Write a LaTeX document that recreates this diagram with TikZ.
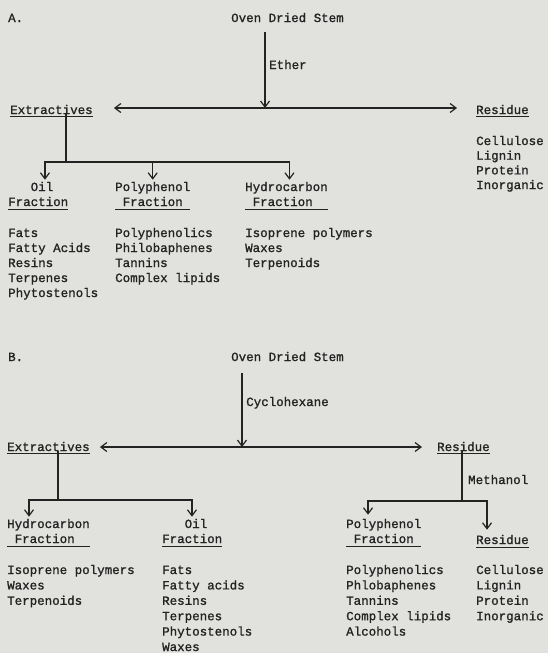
\documentclass[tikz,border=0pt]{standalone}
\usepackage{fontspec}
\setmonofont{Liberation Mono}[RawFeature={embolden=1.2}]
\usetikzlibrary{arrows.meta,positioning,calc}
\definecolor{paper}{RGB}{225,225,222}
\definecolor{ink}{RGB}{35,35,35}
\tikzset{
  lbl/.style={inner sep=0pt,anchor=base west,text=ink,font=\ttfamily\fontsize{12.5}{15}\selectfont},
  uline/.style={draw=ink,line width=0.8pt},
  lead/.style={draw=ink,line width=1.2pt},
  flow/.style={lead,-{Straight Barb[length=6pt,width=9pt]}},
}

\begin{document}
\begin{tikzpicture}[x=1pt,y=-1pt]
  \useasboundingbox[fill=paper] (0,0) rectangle (548,653);

  % ---- A. ether extraction
  \node[lbl] (labA) at (8,22) {A.};
  \node[lbl] (ovenA) at (231,22) {Oven Dried Stem};
  \node[lbl] (etherA) at (269,69) {Ether};
  \node[lbl] (extA) at (10,114) {Extractives};
  \node[lbl] (resA) at (476,114) {Residue};
  \draw[uline] ($(extA.base west)+(0,2)$) -- ($(extA.base east)+(0,2)$);
  \draw[uline] ($(resA.base west)+(0,2)$) -- ($(resA.base east)+(0,2)$);
  \foreach \t [count=\i from 0] in {Cellulose,Lignin,Protein,Inorganic}
    \node[lbl] (resA\i) at (476,145+14.7*\i) {\t};

  \coordinate (topA) at (265,32);
  \coordinate (sA) at (265,108);
  \coordinate (jA) at (66,162);
  \draw[flow] (topA) -- (sA);
  \draw[flow,shorten >=21pt] (sA) -- (sA -| extA.east);
  \draw[flow,shorten >=19pt] (sA) -- (sA -| resA.west);
  \draw[lead] (extA.base -| jA) -- (jA);

  \node[lbl] (oilA) at (30.5,191) {Oil};
  \node[lbl] (foilA) at (8,206) {Fraction};
  \node[lbl] (polA) at (115,191) {Polyphenol};
  \node[lbl] (fpolA) at (122.5,206) {Fraction};
  \node[lbl] (hydA) at (245,191) {Hydrocarbon};
  \node[lbl] (fhydA) at (252.5,206) {Fraction};
  \draw[uline] ($(foilA.base west)+(0,3)$) -- ($(foilA.base east)+(0,3)$);
  \draw[uline] ($(polA.base west |- fpolA.base)+(0,3)$) -- ($(polA.base east |- fpolA.base)+(0,3)$);
  \draw[uline] ($(hydA.base west |- fhydA.base)+(0,3)$) -- ($(hydA.base east |- fhydA.base)+(0,3)$);
  \draw[flow] (jA) -| ($(oilA.north)+(3,-2)$);
  \draw[flow] (jA) -| ($(polA.north)+(0,-2)$);
  \draw[flow] (jA) -| ($(hydA.north)+(3,-2)$);

  \foreach \t [count=\i from 0] in {Fats,Fatty Acids,Resins,Terpenes,Phytostenols}
    \node[lbl] (oilA\i) at (8,237+15*\i) {\t};
  \foreach \t [count=\i from 0] in {Polyphenolics,Philobaphenes,Tannins,Complex lipids}
    \node[lbl] (polA\i) at (115,237+15*\i) {\t};
  \foreach \t [count=\i from 0] in {Isoprene polymers,Waxes,Terpenoids}
    \node[lbl] (hydA\i) at (245,237+15*\i) {\t};

  % ---- B. cyclohexane, then methanol
  \node[lbl] (labB) at (8,361) {B.};
  \node[lbl] (ovenB) at (231,361) {Oven Dried Stem};
  \node[lbl] (cycB) at (246,406) {Cyclohexane};
  \node[lbl] (extB) at (7,451) {Extractives};
  \node[lbl] (resB) at (437,451) {Residue};
  \node[lbl] (methB) at (468,484) {Methanol};
  \draw[uline] ($(extB.base west)+(0,2)$) -- ($(extB.base east)+(0,2)$);
  \draw[uline] ($(resB.base west)+(0,2)$) -- ($(resB.base east)+(0,2)$);

  \coordinate (topB) at (242,373);
  \coordinate (sB) at (242,447);
  \coordinate (jB) at (58,500);
  \coordinate (kB) at (462,501);
  \draw[flow] (topB) -- (sB);
  \draw[flow,shorten >=10pt] (sB) -- (sB -| extB.east);
  \draw[flow,shorten >=15pt] (sB) -- (sB -| resB.west);
  \draw[lead] (extB.base -| jB) -- (jB);
  \draw[lead] (resB.base -| kB) -- (kB);

  \node[lbl] (hydB) at (7,528) {Hydrocarbon};
  \node[lbl] (fhydB) at (14.5,543) {Fraction};
  \node[lbl] (oilB) at (184.5,528) {Oil};
  \node[lbl] (foilB) at (162,543) {Fraction};
  \node[lbl] (polB) at (346,528) {Polyphenol};
  \node[lbl] (fpolB) at (353.5,543) {Fraction};
  \node[lbl] (res2B) at (476,544) {Residue};
  \draw[uline] ($(hydB.base west |- fhydB.base)+(0,3)$) -- ($(hydB.base east |- fhydB.base)+(0,3)$);
  \draw[uline] ($(foilB.base west)+(0,3)$) -- ($(foilB.base east)+(0,3)$);
  \draw[uline] ($(polB.base west |- fpolB.base)+(0,3)$) -- ($(polB.base east |- fpolB.base)+(0,3)$);
  \draw[uline] ($(res2B.base west)+(0,3)$) -- ($(res2B.base east)+(0,3)$);
  \draw[flow] (jB) -| ($(hydB.north west)+(22,-2)$);
  \draw[flow] (jB) -| ($(oilB.north)+(-4,-2)$);
  \draw[flow] (kB) -| ($(polB.north west)+(22,-4)$);
  \draw[flow] (kB) -| ($(res2B.north west)+(11,-5)$);

  \foreach \t [count=\i from 0] in {Isoprene polymers,Waxes,Terpenoids}
    \node[lbl] (hydB\i) at (7,574+15.4*\i) {\t};
  \foreach \t [count=\i from 0] in {Fats,Fatty acids,Resins,Terpenes,Phytostenols,Waxes}
    \node[lbl] (oilB\i) at (162,574+15.4*\i) {\t};
  \foreach \t [count=\i from 0] in {Polyphenolics,Phlobaphenes,Tannins,Complex lipids,Alcohols}
    \node[lbl] (polB\i) at (346,574+15.4*\i) {\t};
  \foreach \t [count=\i from 0] in {Cellulose,Lignin,Protein,Inorganic}
    \node[lbl] (resB\i) at (476,574+15.4*\i) {\t};
\end{tikzpicture}
\end{document}
